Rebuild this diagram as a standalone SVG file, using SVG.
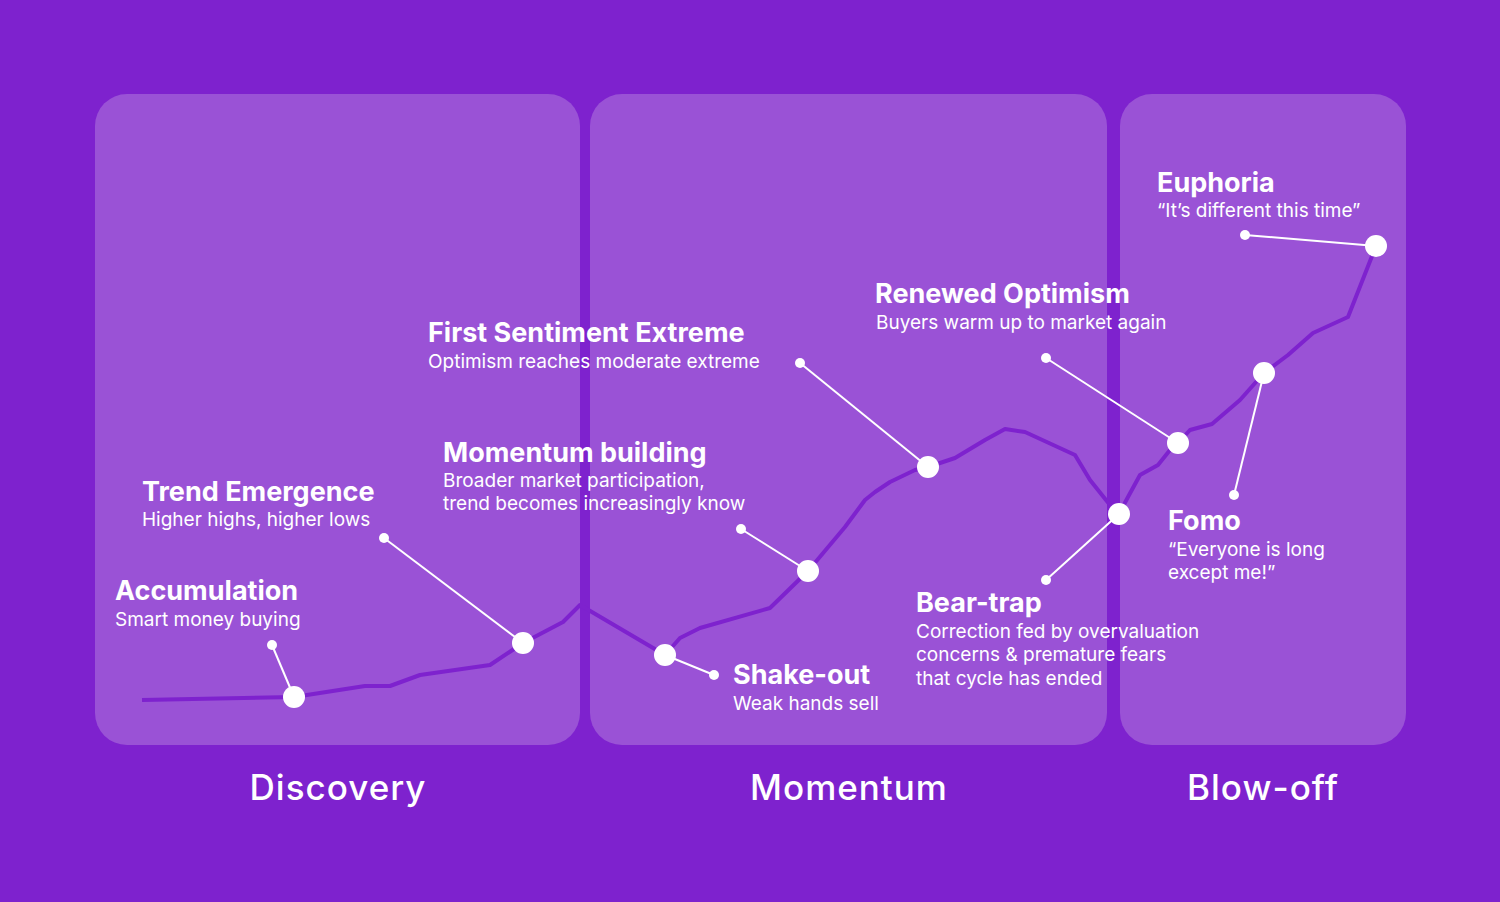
<svg xmlns="http://www.w3.org/2000/svg" width="1500" height="902" viewBox="0 0 1500 902">
<style>
.p{fill:#9a52d6}
.h{font-family:Inter,"Liberation Sans",sans-serif;font-weight:700;font-size:27px;fill:#fff}
.s{font-family:Inter,"Liberation Sans",sans-serif;font-size:19px;fill:#fff}
.c{font-family:Inter,"Liberation Sans",sans-serif;font-weight:500;font-size:35px;fill:#fff;text-anchor:middle;letter-spacing:1px}
.l{stroke:#fff;stroke-width:2;fill:none}
.d{fill:#fff}
</style>
<rect width="1500" height="902" fill="#7e22ce"/>
<g id="panels">
<rect class="p" x="95" y="94" width="485" height="651" rx="32"/>
<rect class="p" x="590" y="94" width="517" height="651" rx="32"/>
<rect class="p" x="1120" y="94" width="286" height="651" rx="32"/>
</g>
<polyline fill="none" stroke="#7e22ce" stroke-width="4" stroke-linejoin="round" points="142,700 294,697 365,686 390,686 420,675 490,665 523,643 563,622 580,605 665,655 680,638 700,628 770,608 808,571 845,527 865,500 875,492 890,482 915,470 928,467 955,458 985,440 1005,429 1025,432 1075,455 1090,480 1110,505 1119,514 1128,497 1140,475 1158,465 1170,450 1178,443 1190,430 1212,424 1240,400 1264,373 1288,355 1313,333 1348,317 1376,246"/>
<g id="connectors">
<line class="l" x1="272" y1="645" x2="294" y2="697"/>
<line class="l" x1="384" y1="538" x2="523" y2="643"/>
<line class="l" x1="714" y1="675" x2="665" y2="655"/>
<line class="l" x1="741" y1="529" x2="808" y2="571"/>
<line class="l" x1="800" y1="363" x2="928" y2="467"/>
<line class="l" x1="1046" y1="580" x2="1119" y2="514"/>
<line class="l" x1="1046" y1="358" x2="1178" y2="443"/>
<line class="l" x1="1234" y1="495" x2="1264" y2="373"/>
<line class="l" x1="1245" y1="235" x2="1376" y2="246"/>
</g>
<g id="dots">
<circle class="d" cx="272" cy="645" r="5"/><circle class="d" cx="294" cy="697" r="11"/>
<circle class="d" cx="384" cy="538" r="5"/><circle class="d" cx="523" cy="643" r="11"/>
<circle class="d" cx="714" cy="675" r="5"/><circle class="d" cx="665" cy="655" r="11"/>
<circle class="d" cx="741" cy="529" r="5"/><circle class="d" cx="808" cy="571" r="11"/>
<circle class="d" cx="800" cy="363" r="5"/><circle class="d" cx="928" cy="467" r="11"/>
<circle class="d" cx="1046" cy="580" r="5"/><circle class="d" cx="1119" cy="514" r="11"/>
<circle class="d" cx="1046" cy="358" r="5"/><circle class="d" cx="1178" cy="443" r="11"/>
<circle class="d" cx="1234" cy="495" r="5"/><circle class="d" cx="1264" cy="373" r="11"/>
<circle class="d" cx="1245" cy="235" r="5"/><circle class="d" cx="1376" cy="246" r="11"/>
</g>
<g id="accumulation"><text class="h" x="115" y="600">Accumulation</text><text class="s" x="115" y="626">Smart money buying</text></g>
<g id="trend"><text class="h" x="142" y="501">Trend Emergence</text><text class="s" x="142" y="526">Higher highs, higher lows</text></g>
<g id="momentum-building"><text class="h" x="443" y="462">Momentum building</text><text class="s" x="443" y="487">Broader market participation,</text><text class="s" x="443" y="510">trend becomes increasingly know</text></g>
<g id="first"><text class="h" x="428" y="342">First Sentiment Extreme</text><text class="s" x="428" y="368">Optimism reaches moderate extreme</text></g>
<g id="shakeout"><text class="h" x="733" y="684">Shake-out</text><text class="s" x="733" y="710">Weak hands sell</text></g>
<g id="renewed"><text class="h" x="875" y="303">Renewed Optimism</text><text class="s" x="876" y="329">Buyers warm up to market again</text></g>
<g id="beartrap"><text class="h" x="916" y="612">Bear-trap</text><text class="s" x="916" y="638">Correction fed by overvaluation</text><text class="s" x="916" y="661">concerns &amp; premature fears</text><text class="s" x="916" y="685">that cycle has ended</text></g>
<g id="fomo"><text class="h" x="1168" y="530">Fomo</text><text class="s" x="1168" y="556">“Everyone is long</text><text class="s" x="1168" y="579">except me!”</text></g>
<g id="euphoria"><text class="h" x="1157" y="192">Euphoria</text><text class="s" x="1157" y="217">“It’s different this time”</text></g>
<g id="labels"><text class="c" x="338" y="800">Discovery</text><text class="c" x="849" y="800">Momentum</text><text class="c" x="1263" y="800">Blow-off</text></g>
</svg>
